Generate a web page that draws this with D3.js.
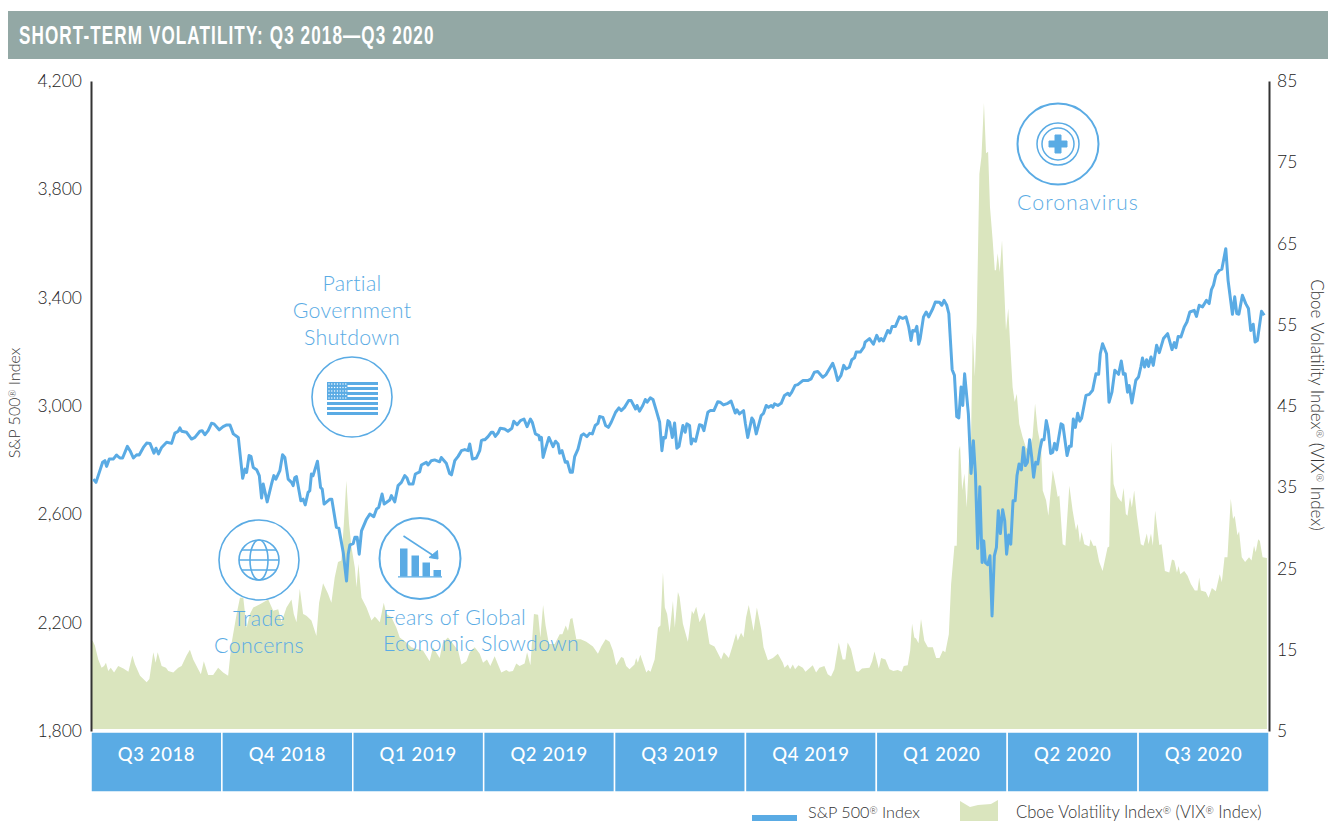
<!DOCTYPE html>
<html>
<head>
<meta charset="utf-8">
<title>Short-term volatility</title>
<script src="https://cdn.jsdelivr.net/npm/d3@7"></script>
<style>
    html, body { margin: 0; padding: 0; background: #fff; overflow: hidden; }
    text { font-family: Lato, "Open Sans", sans-serif; }
</style>
</head>
<body>
<div id="chart"></div>
<script>
// values, x is the trading session counted from 1 Jul 2018 (63 per quarter)
const quarters = ["Q3 2018", "Q4 2018", "Q1 2019", "Q2 2019", "Q3 2019", "Q4 2019", "Q1 2020", "Q2 2020", "Q3 2020"];
const spxTicks = [1800, 2200, 2600, 3000, 3400, 3800, 4200];
const vixTicks = [5, 15, 25, 35, 45, 55, 65, 75, 85];

const spxPoints = [
    [1.1,2730],[2.4,2718],[4,2755],[5.6,2792],[6.7,2798],[7.5,2777],[8.8,2804],[10.7,2804],[12.3,2819],[13.9,2808],
    [15.2,2808],[17.5,2851],[18.8,2835],[20.4,2808],[22,2820],[23.2,2819],[25.2,2847],[26.8,2863],[28.4,2862],[30.3,2826],
    [31.3,2844],[32.5,2823],[34,2847],[36.4,2866],[38.8,2862],[40.4,2900],[42,2907],[42.8,2919],[43.6,2907],[46,2903],
    [48.4,2878],[50,2884],[52.4,2907],[53.5,2909],[54.8,2894],[56.4,2909],[58,2936],[59.2,2934],[61.7,2912],[63.6,2924],
    [65.3,2930],[66.9,2930],[68.5,2897],[70.9,2884],[73,2733],[74.1,2767],[74.9,2755],[76.1,2817],[77,2814],[78.1,2773],
    [79.7,2765],[81,2743],[82.1,2660],[82.9,2712],[84.8,2646],[86.9,2712],[88,2743],[89,2730],[90.9,2761],[92.2,2820],
    [93.3,2810],[94.9,2730],[96.5,2718],[97.3,2706],[98.1,2736],[98.9,2739],[101,2650],[102.1,2656],[103.1,2635],[104.5,2681],
    [105.3,2687],[106.1,2749],[106.9,2743],[109,2796],[110.5,2699],[111.3,2693],[112.2,2638],[115,2656],[115.9,2656],[118.1,2552],
    [119.3,2549],[121.4,2459],[123,2354],[123.8,2453],[124.6,2487],[126.2,2492],[127,2515],[128.1,2515],[129.1,2453],[130.2,2539],
    [132.6,2582],[134.2,2601],[136.1,2591],[137.4,2619],[138.5,2626],[140.1,2675],[141.1,2638],[143.8,2653],[144.6,2669],[146.2,2646],
    [147.8,2706],[149.4,2718],[151,2743],[152.1,2734],[153.1,2712],[155,2712],[156.1,2749],[158.2,2757],[159,2782],[161.4,2792],
    [162.2,2782],[163.8,2798],[165.4,2801],[167.8,2794],[168.6,2810],[171,2789],[172.6,2751],[173.5,2746],[175.1,2798],[176.7,2814],
    [178.3,2835],[179.9,2839],[181.5,2835],[182.3,2860],[183.6,2804],[185.5,2808],[187.1,2835],[187.9,2872],
    [188.7,2875],[189.5,2875],[191.1,2887],[192.7,2903],[193.5,2903],[194.6,2888],[195.9,2900],[197,2918],[199.1,2915],[200.7,2907],
    [202.6,2918],[203.5,2944],[205.1,2931],[206.7,2946],[208.4,2952],[209.9,2924],[211.5,2952],[212.4,2940],[213.9,2897],[215.6,2891],
    [216,2875],[216.8,2884],[217.6,2810],[218.7,2841],[220.4,2884],[222.4,2850],[223.6,2870],[224.8,2860],[225.6,2826],[226.7,2835],
    [228.3,2792],[229.3,2794],[230.7,2755],[231.7,2755],[232.8,2813],[234.4,2841],[236,2891],[237.1,2897],[238.7,2887],[240,2899],
    [241.3,2897],[242.7,2928],[244,2936],[244.8,2961],[246.4,2958],[247.7,2928],[249,2921],[250.4,2940],[252.5,2977],[254.1,2993],
    [255.2,2983],[256.8,2995],[258.8,3020],[260,3020],[262.1,2989],[262.8,3002],[264,2981],[265.6,3002],[266.8,3024],[267.7,3014],
    [269.2,3030],[270.5,3024],[272.1,2983],[273.7,2940],[274.8,2835],[275.6,2884],[276.5,2882],[277.7,2946],[278.5,2940],[279.8,2884],
    [280.9,2937],[282,2844],[283,2851],[284.9,2928],[286,2903],[286.8,2934],[288.1,2928],[288.9,2860],[289.7,2878],[291,2870],
    [292.9,2931],[294,2928],[295,2909],[296.9,2977],[298,2983],[299.8,2983],[301.7,3016],[302.8,3014],[304.4,3004],[306.5,3010],
    [308.1,3018],[310.1,2974],[310.9,2986],[312.1,2971],[314.1,2983],[315,2934],[316.1,2884],[318.1,2956],[318.9,2946],[320.2,2897],
    [322.6,2965],[323.7,2973],[325,3002],[326.1,2995],[327.4,3002],[328.2,2995],[329,3008],[330.6,3002],[332.2,3010],[333.8,3039],
    [335.4,3047],[336.2,3039],[337.3,3051],[338.9,3076],[340.2,3079],[342.6,3094],[345,3094],[346.6,3100],[348.2,3125],[349.8,3127],
    [352.2,3106],[353.8,3116],[357,3158],[358.2,3131],[359.4,3094],[361,3113],[362.3,3150],[363.4,3137],[365,3143],[366.2,3171],
    [367.5,3178],[368.3,3199],[370.3,3199],[372,3217],[372.6,3236],[374.7,3249],[376.6,3228],[378.2,3261],[379.5,3240],[380.3,3249],
    [381.4,3240],[383.5,3279],[384.6,3270],[385.6,3294],[387.2,3294],[389.1,3329],[390.7,3323],[392.3,3329],[393.6,3292],[394.7,3242],
    [395.5,3279],[396.7,3277],[397.5,3294],[398.4,3228],[399.1,3249],[400.7,3329],[402,3347],[403.2,3329],[405.2,3360],[406.4,3384],
    [408.4,3383],[409.5,3372],[410.6,3390],[411.9,3372],[412.9,3341],[414.5,3134],[415.6,3113],[416.7,2961],[417.7,2956],[418.8,3070],
    [419.6,3002],[420.5,3119],[422.3,2971],[423.6,2751],[424.7,2872],[425.7,2749],[426.8,2474],[427.8,2702],[428.9,2422],[429.7,2502],
    [430.5,2422],[431.6,2414],[432.7,2447],[433.7,2225],[434.8,2447],[435.8,2478],[436.7,2613],[437.7,2529],[438.8,2617],[439.8,2576],
    [440.7,2453],[441.7,2524],[442.7,2490],[443.8,2650],[444.8,2650],[445.7,2743],[446.7,2786],[447.8,2764],[448.8,2847],[449.7,2780],
    [450.7,2792],[451.8,2875],[452.8,2810],[453.7,2737],[454.7,2792],[455.7,2786],[456.8,2841],[457.7,2875],[458.7,2875],[459.8,2946],
    [460.8,2909],[461.9,2825],[462.9,2829],[463.8,2862],[464.8,2838],[466.9,2934],[467.8,2930],[469.8,2817],[470.9,2851],[471.8,2851],
    [472.8,2952],[473.8,2921],[474.9,2973],[475.9,2944],[476.8,2955],[478.9,3039],[480.5,3043],[482.1,3058],[483.7,3119],[485,3117],
    [485.8,3193],[486.9,3230],[488.8,3193],[490,3014],[491.4,3051],[492.8,3132],[494.6,3117],[495.9,3166],[496.9,3117],[497.8,3119],
    [498.9,3051],[499.7,3076],[501,3011],[502.9,3095],[504.2,3107],[505.3,3144],[506.1,3177],[507.1,3144],[508.1,3171],[509,3146],
    [510.2,3181],[511.3,3150],[512.9,3224],[514.2,3197],[516.2,3249],[518.2,3267],[520.3,3208],[521.4,3234],[522.2,3215],[523.3,3257],
    [524.6,3255],[526.2,3292],[527.5,3310],[528.9,3347],[531,3353],[532.1,3331],[533.4,3372],[535,3366],[536.9,3390],[538.2,3378],
    [539.3,3430],[540.3,3446],[541.4,3483],[543,3501],[544.3,3505],[546.2,3581],[547.3,3464],[549.4,3339],[550.5,3403],[551.5,3341],
    [552.5,3339],[554.2,3409],[555.8,3378],[557.1,3360],[558.2,3279],[559.4,3302],[560.3,3236],[561.4,3242],[563.4,3350],[564.7,3335]
];

const vixPoints = [
    [0,16.1],[0.8,16.1],[1.9,15.5],[3.5,13.8],[5.1,12.8],[6.3,13],[7.2,13.4],[8.3,12.4],[9.5,12.8],[11.1,12.2],[13.1,13],
    [15.6,12.7],[18,12.3],[19.9,14.3],[21.2,13.2],[23.6,11.8],[26.8,11],[28.1,11.4],[30,14.7],[31.1,13.4],[32.1,14.7],
    [34,13],[36.1,12.8],[37.2,12.4],[39.6,12.2],[42,12.8],[43.6,13],[46,14.3],[47.6,15],[49.2,13.8],[51.6,12.6],
    [52.9,12],[54.3,13.6],[56.4,11.9],[58.8,11.9],[61.2,12.8],[63.6,12.2],[66,11.8],[67.6,15.7],[70.1,19.4],[71.7,21.4],
    [73.3,21.4],[74.9,17.7],[76.5,19.4],[78.1,20.2],[81.3,20.6],[85.3,21.2],[87.7,19.8],[90.1,20],[91.7,18.4],[94.1,20.2],
    [96.5,21.2],[97.6,19.4],[98.9,18.4],[100.5,22.5],[102.1,19.4],[103.7,19.2],[106.1,18.6],[108.5,16.7],[109.8,20.8],[111.7,23.2],
    [114.1,21.9],[115.7,20.8],[117.3,23.9],[118.9,25.8],[120.5,26],[121.7,30.5],[122.9,35.8],[124.2,30.5],[125.4,27.6],[127,25.1],
    [127.8,22.7],[128.7,25.6],[130.2,21.4],[132.6,20.2],[135,18.6],[136.6,19.1],[137.7,18.8],[139,18.4],[140.9,20.8],[142.2,19.4],
    [144.6,19],[147,17.7],[148.6,16.5],[151.8,15.9],[154.2,15.3],[156.6,15.1],[159.8,14.9],[163,13.6],[164.6,15.3],[167.8,14],
    [169.4,15.9],[171.8,16.5],[174.3,15.7],[176.7,14.9],[178.3,13.2],[180.7,13.6],[182.3,14.7],[184.7,15.3],[187.1,14.5],[188.7,13.4],
    [190.6,13.8],[192.2,13],[194.3,14.2],[195.9,13.2],[197.5,12.2],[199.9,12.5],[201.2,12.3],[203.1,12.4],[204.7,13.3],[206.3,13],
    [208.7,13.3],[209.9,14.7],[211.5,13.1],[213.2,19.4],[215.2,19.3],[216.3,16.5],[217.6,20.5],[218.8,18],[220.4,15.7],[223.2,15.7],
    [225.6,16.9],[226.9,16.9],[228.5,18],[229.6,17.3],[230.7,18.8],[231.7,18.9],[233.6,16.3],[235.7,16.3],[238.4,16],[241.6,15.4],
    [244,14.5],[245.6,15.4],[247.7,16.3],[249.6,16],[251.2,14.9],[252.8,13.1],[255.2,14.1],[256.3,14],[257.6,13],[259.2,12.6],
    [261.6,13.2],[262.4,14],[263.2,13.4],[264.4,14.4],[267.3,12.2],[268.2,12.5],[269.3,12.3],[271.3,13.8],[272.9,17.7],[274.1,18],
    [275.3,24.5],[276.2,20.2],[277.3,19.4],[278.5,17.1],[280.1,21],[281,17.7],[282.5,22.1],[283.3,21.5],[284.9,18.2],[287.3,16],
    [289.2,19.8],[290,19.4],[291.3,20.3],[292.9,18.4],[295.3,19.6],[297.7,15.7],[300.1,15.4],[303.3,13.8],[304.6,14.7],[307,14],
    [308.6,15.3],[310.5,17],[311.3,16.1],[312.9,17.1],[314.1,16.5],[315.3,19],[316.6,20.5],[317.7,19],[318.9,17.3],[320.5,20.2],
    [322.6,17.5],[323.7,15.3],[325.8,13.7],[328.2,14],[330.6,14.5],[333,13.4],[333.8,12.8],[335.4,13.2],[336.5,12.6],[337.8,13.2],
    [338.9,12.6],[340.5,13.1],[342.6,12.8],[343.9,12.3],[347.4,13.1],[349,12.2],[350.6,12.8],[353,13],[354.6,12],[356.2,11.7],
    [357.8,12.6],[359.9,15.9],[361.8,13.8],[363.1,13.8],[364.2,15.9],[365.8,15.1],[368.2,12.4],[369.4,12.3],[371.1,12.7],[374.7,12.8],
    [376,13.6],[377.1,14.8],[379.2,12.7],[380.3,14],[382.4,13.8],[384.3,12.6],[386.2,12.4],[388.3,12.5],[390.2,12.3],[391.2,13],
    [393.1,13.1],[394.3,14.9],[395.2,18.2],[396.3,16.5],[397.1,16.4],[398.3,15.8],[399.5,18.8],[401.1,16.1],[402.8,15.3],[405.2,15.3],
    [406.8,14],[408.4,14],[410,14.9],[411.2,14.7],[412.9,16.9],[414,23.1],[415.6,27.8],[416.7,27.8],[417.7,39.5],[418.3,40.1],
    [419.3,34.6],[420.4,36.7],[421.5,32.5],[422.5,37.9],[423.6,41.2],[424.4,54.1],[425.4,48.6],[426.3,55.1],[427.6,73.6],[428.6,75.7],
    [429.8,82.3],[430.8,76.1],[431.8,76.3],[432.7,69.5],[434,65.4],[435,61.7],[435.6,61.7],[436.4,63.8],[437.4,61.5],[438.5,65.4],
    [439.6,59.2],[440.4,54.3],[441.5,57],[442.3,53.1],[443.6,47.3],[444.6,45.5],[445.6,46.5],[446.8,42.8],[448.4,41.2],[450,39.9],
    [451.6,39.5],[453.2,41.2],[454.4,45.3],[455.7,42],[457.3,39.9],[458.1,34.6],[459.7,33.4],[460.8,31.5],[462.9,37.1],[464.5,35],
    [465.3,33.8],[466.1,34],[467.7,28],[469,27.8],[470.9,35.2],[472.5,32.1],[474.1,29.7],[474.9,30.5],[476,28.2],[476.8,29.5],
    [478.1,28],[480.5,27.7],[481.1,28.6],[482.4,27.8],[483.7,27.8],[485.3,25.8],[486.9,24.7],[489.3,27.6],[490.1,27.7],[491.1,40.6],
    [492.2,35.4],[494.1,33.8],[496,33.2],[497,34.9],[498.1,31.7],[498.9,31.5],[500.1,33.8],[501,32.5],[502.1,34.6],[503.4,31.5],
    [505.3,28],[506.6,27.8],[508.2,29.3],[509,28],[510.2,29.3],[511.1,27.8],[512.2,32.1],[514.2,27.9],[515.3,28],[516.9,24.7],
    [519,24.5],[520.3,26.1],[521.4,26],[522.7,24.5],[523.5,25.3],[524.3,24.3],[526.2,24.7],[527.8,24.1],[529.4,23.1],[531.3,22.3],
    [532.6,22.3],[533.4,23.9],[534.2,22.3],[536.6,22.1],[537.9,21.4],[539.5,22.6],[541.4,22.2],[543.3,24.3],[544.3,23.3],[545.6,26.4],
    [547,26.4],[548.6,33.6],[549.7,31.1],[550.5,31.5],[551.8,29.1],[552.6,29.6],[553.9,26.4],[555.5,25.8],[557.4,26.4],[558.6,26],
    [559.8,27.8],[560.6,27],[561.8,28.6],[562.6,28.4],[563.9,26.4],[566,26.3]
];

const blue = "#5aabe4";
const green = "#dae5be";
const textColor = "#333";

// chart frame
const margin = { top: 81, right: 59, bottom: 90, left: 91 };
const svgWidth = 1328, svgHeight = 821;
const width = svgWidth - margin.left - margin.right;
const height = svgHeight - margin.top - margin.bottom;

const svg = d3.select("#chart").append("svg")
    .attr("width", svgWidth)
    .attr("height", svgHeight)
    .style("display", "block");

// title band
svg.append("rect")
    .attr("x", 8).attr("y", 11)
    .attr("width", svgWidth - 8).attr("height", 48)
    .attr("fill", "#93a8a5");

// no condensed face installed, so squeeze the bold one
svg.append("text")
    .attr("transform", "translate(19, 44) scale(0.685, 1)")
    .attr("font-size", 25)
    .attr("font-weight", 700)
    .attr("letter-spacing", 1.6)
    .attr("fill", "#fff")
    .style("font-family", "'Liberation Sans', sans-serif")
    .text("SHORT-TERM VOLATILITY: Q3 2018\u2014Q3 2020");

const g = svg.append("g")
    .attr("transform", `translate(${margin.left}, ${margin.top})`);

// scales
const x = d3.scaleLinear().domain([0, 567]).range([0, width]);
const ySpx = d3.scaleLinear().domain([1800, 4200]).range([height, 0]);
const yVix = d3.scaleLinear().domain([5, 85]).range([height, 0]);
const xBand = d3.scaleBand().domain(quarters).range([0, width]);

// vix area
g.append("path")
    .datum(vixPoints)
    .attr("fill", green)
    .attr("d", d3.area().x(d => x(d[0])).y0(height - 2).y1(d => yVix(d[1])));

// quarter band under the plot
const bandGroup = g.append("g").attr("transform", `translate(0, ${height + 1})`);

bandGroup.selectAll("rect")
    .data(quarters)
    .enter().append("rect")
    .attr("x", d => xBand(d))
    .attr("width", xBand.bandwidth())
    .attr("height", 60)
    .attr("fill", blue)
    .attr("stroke", "#fff")
    .attr("stroke-width", 1.5);

bandGroup.selectAll("text")
    .data(quarters)
    .enter().append("text")
    .attr("x", d => xBand(d) + xBand.bandwidth() / 2)
    .attr("y", 23)
    .attr("dy", "0.35em")
    .attr("text-anchor", "middle")
    .attr("font-size", 18.5)
    .attr("font-weight", 500)
    .attr("letter-spacing", 0.6)
    .attr("fill", "#fff")
    .text(d => d);

// axes
const leftAxis = g.append("g")
    .call(d3.axisLeft(ySpx).tickValues(spxTicks).tickSize(0).tickPadding(9).tickFormat(d3.format(",")));

const rightAxis = g.append("g")
    .attr("transform", `translate(${width}, 0)`)
    .call(d3.axisRight(yVix).tickValues(vixTicks).tickSize(0).tickPadding(8));

[leftAxis, rightAxis].forEach(axis => {
    axis.select(".domain").attr("stroke", "#333").attr("stroke-width", 2);
    axis.selectAll("text")
        .attr("font-size", 17.5)
        .attr("font-weight", 300)
        .attr("fill", "#222")
        .style("font-family", "Lato, sans-serif");
});

// text with small raised registered marks between the parts
function addRegistered(sel, parts) {
    parts.forEach((p, i) => {
        let part = sel.append("tspan").text(p);
        if (i > 0) part.attr("dy", "0.27em");
        if (i < parts.length - 1) {
            sel.append("tspan").attr("font-size", "0.6em").attr("dy", "-0.45em").text("\u00ae");
        }
    });
}

svg.append("text")
    .attr("transform", "translate(20, 403) rotate(-90)")
    .attr("text-anchor", "middle")
    .attr("font-size", 16)
    .attr("font-weight", 300)
    .attr("fill", textColor)
    .call(addRegistered, ["S&P 500", " Index"]);

svg.append("text")
    .attr("transform", "translate(1311, 405) rotate(90)")
    .attr("text-anchor", "middle")
    .attr("font-size", 17)
    .attr("font-weight", 300)
    .attr("fill", textColor)
    .call(addRegistered, ["Cboe Volatility Index", " (VIX", " Index)"]);

// annotation icons, white discs sit on top of the area
function iconCircle(cx, cy, r, sw) {
    const icon = svg.append("g").attr("transform", `translate(${cx}, ${cy})`);
    icon.append("circle")
        .attr("r", r)
        .attr("fill", "#fff")
        .attr("stroke", blue)
        .attr("stroke-width", sw);
    return icon;
}

// flag
const flag = iconCircle(352, 397, 40, 1.6);
d3.range(7).forEach(i => {
    flag.append("rect")
        .attr("x", -25).attr("y", -15 + i * 5)
        .attr("width", 51).attr("height", 3)
        .attr("fill", blue);
});
flag.append("rect")
    .attr("x", -25).attr("y", -15)
    .attr("width", 20.5).attr("height", 18)
    .attr("fill", blue);
d3.range(5).forEach(row => {
    d3.range(7).forEach(col => {
        flag.append("circle")
            .attr("cx", -23 + col * 2.8)
            .attr("cy", -13 + row * 3.5)
            .attr("r", 0.7)
            .attr("fill", "#fff");
    });
});

// globe
const globe = iconCircle(259, 560, 40, 1.6);
globe.append("circle").attr("r", 20).attr("fill", "none").attr("stroke", blue).attr("stroke-width", 1.6);
globe.append("ellipse").attr("rx", 9).attr("ry", 20).attr("fill", "none").attr("stroke", blue).attr("stroke-width", 1.6);
[-10, 0, 10].forEach(dy => {
    let half = Math.sqrt(400 - dy * dy);
    globe.append("line")
        .attr("x1", -half).attr("x2", half)
        .attr("y1", dy).attr("y2", dy)
        .attr("stroke", blue).attr("stroke-width", 1.6);
});

// falling bars
const bars = iconCircle(420, 558.5, 40.5, 2);
[[-20, 7.5, -10], [-8.5, 7.5, -3], [2.5, 7.5, 4], [13.5, 7.5, 11.5]].forEach(b => {
    bars.append("rect")
        .attr("x", b[0]).attr("y", b[2])
        .attr("width", b[1]).attr("height", 18 - b[2])
        .attr("fill", blue);
});
bars.append("line")
    .attr("x1", -22).attr("x2", 22)
    .attr("y1", 18.3).attr("y2", 18.3)
    .attr("stroke", blue).attr("stroke-width", 1.2);
bars.append("line")
    .attr("x1", -16.5).attr("x2", 14)
    .attr("y1", -22.5).attr("y2", -2.5)
    .attr("stroke", blue).attr("stroke-width", 1.5);
bars.append("path")
    .attr("d", "M17.5,-8 L18,0.5 L9,-1 Z")
    .attr("fill", blue)
    .attr("stroke", blue);

// medical cross
const cross = iconCircle(1058, 144, 40.5, 2);
cross.append("circle").attr("r", 21).attr("fill", "none").attr("stroke", blue).attr("stroke-width", 1.5);
cross.append("circle").attr("r", 16).attr("fill", "none").attr("stroke", blue).attr("stroke-width", 1.5);
cross.append("path")
    .attr("d", "M-3,-9 H3 V-3 H9 V3 H3 V9 H-3 V3 H-9 V-3 H-3 Z")
    .attr("fill", blue)
    .attr("stroke", blue)
    .attr("stroke-width", 1)
    .attr("stroke-linejoin", "round");

// s&p line goes over everything in the plot
g.append("path")
    .datum(spxPoints)
    .attr("fill", "none")
    .attr("stroke", blue)
    .attr("stroke-width", 3)
    .attr("stroke-linejoin", "round")
    .attr("d", d3.line().x(d => x(d[0])).y(d => ySpx(d[1])));

// annotation labels
const labels = [
    { text: "Partial", x: 352, y: 291, anchor: "middle" },
    { text: "Government", x: 352, y: 318, anchor: "middle" },
    { text: "Shutdown", x: 352, y: 345, anchor: "middle" },
    { text: "Trade", x: 259, y: 626, anchor: "middle" },
    { text: "Concerns", x: 259, y: 653, anchor: "middle" },
    { text: "Fears of Global", x: 383, y: 625, anchor: "start" },
    { text: "Economic Slowdown", x: 383, y: 651, anchor: "start" },
    { text: "Coronavirus", x: 1017, y: 210, anchor: "start" }
];

svg.selectAll(".label")
    .data(labels)
    .enter().append("text")
    .attr("class", "label")
    .attr("x", d => d.x)
    .attr("y", d => d.y)
    .attr("text-anchor", d => d.anchor)
    .attr("font-size", 21.4)
    .attr("font-weight", 300)
    .attr("letter-spacing", d => d.text === "Coronavirus" ? 1 : 0.3)
    .attr("fill", blue)
    .text(d => d.text);

// legend, cut off by the bottom edge as in the page it came from
svg.append("rect")
    .attr("x", 752).attr("y", 815)
    .attr("width", 45).attr("height", 6)
    .attr("fill", blue);

svg.append("path")
    .attr("d", "M960,821 V801 L970,807 L978,805 L991,804 L998,800 V821 Z")
    .attr("fill", green);

svg.append("text")
    .attr("x", 808).attr("y", 818)
    .attr("font-size", 16.2)
    .attr("font-weight", 300)
    .attr("fill", textColor)
    .call(addRegistered, ["S&P 500", " Index"]);

svg.append("text")
    .attr("x", 1016).attr("y", 818)
    .attr("font-size", 16.6)
    .attr("font-weight", 300)
    .attr("fill", textColor)
    .call(addRegistered, ["Cboe Volatility Index", " (VIX", " Index)"]);
</script>
</body>
</html>
